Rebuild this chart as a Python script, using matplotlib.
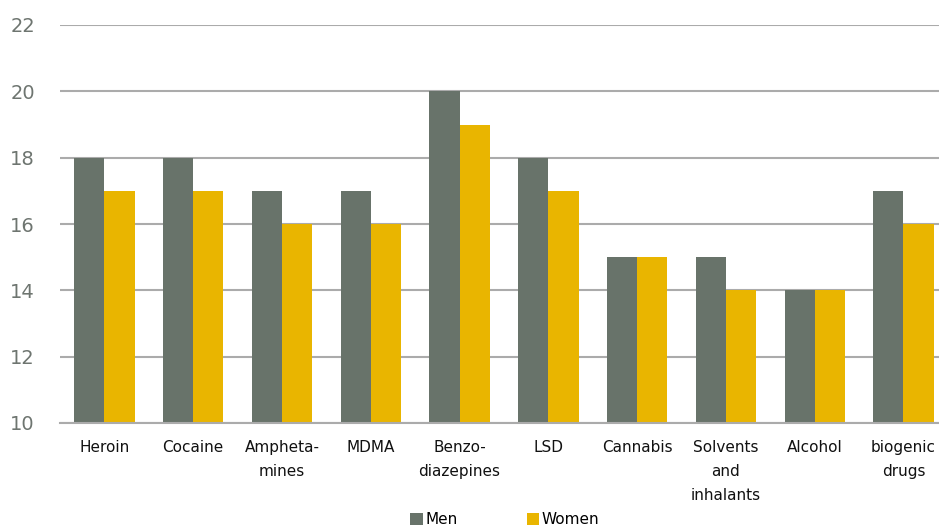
import numpy as np
import matplotlib.pyplot as plt

categories = ["Heroin", "Cocaine", "Ampheta-\nmines", "MDMA", "Benzo-\ndiazepines",
              "LSD", "Cannabis", "Solvents\nand\ninhalants", "Alcohol", "biogenic\ndrugs"]
men = [18, 18, 17, 17, 20, 18, 15, 15, 14, 17]
women = [17, 17, 16, 16, 19, 17, 15, 14, 14, 16]
yticks = [10, 12, 14, 16, 18, 20, 22]

men_color = "#68736a"
women_color = "#e9b500"

fig = plt.figure(figsize=(9.39, 5.26), dpi=100)
ax = fig.add_axes([60 / 939, 103 / 526, 879 / 939, 398 / 526])

x = np.arange(len(categories))
w = 0.34
ax.bar(x - w / 2, men, w, color=men_color, label="Men", zorder=2)
ax.bar(x + w / 2, women, w, color=women_color, label="Women", zorder=2)

ax.set_ylim(10, 22)
ax.set_xlim(-0.5, 9.4)
ax.set_yticks(yticks)
ax.set_yticklabels([str(t) for t in yticks], fontsize=14, color="#6e7570")
ax.set_xticks(x)
ax.set_xticklabels(categories, fontsize=11, linespacing=1.75, color="#111111")
ax.tick_params(axis="y", length=0, pad=18)
ax.tick_params(axis="x", length=0, pad=12)

ax.grid(axis="y", color="#ababab", linewidth=1.5, zorder=0)
ax.set_axisbelow(True)
for s in ["top", "right", "left"]:
    ax.spines[s].set_visible(False)
ax.spines["bottom"].set_color("#ababab")
ax.spines["bottom"].set_linewidth(1.5)

fig.legend(loc="lower center", bbox_to_anchor=(505 / 939, -0.028), ncol=2,
           frameon=False, fontsize=11, handlelength=0.8, handleheight=0.8,
           handletextpad=0.2, columnspacing=4.5)

fig.savefig("out.png", dpi=100)
